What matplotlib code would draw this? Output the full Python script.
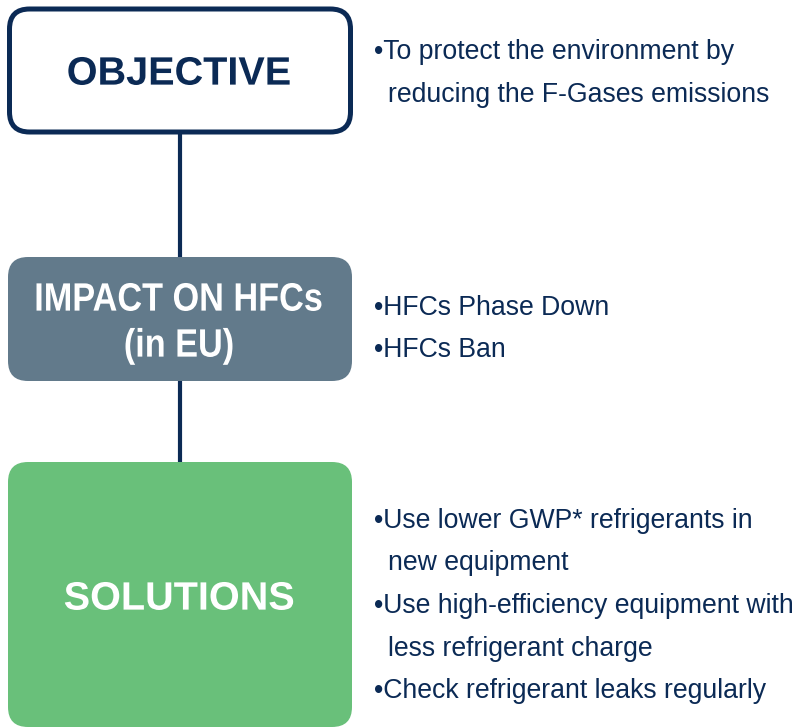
import matplotlib
matplotlib.use("Agg")
import matplotlib.pyplot as plt
from matplotlib.patches import FancyBboxPatch, PathPatch
from matplotlib.textpath import TextPath
from matplotlib.font_manager import FontProperties
from matplotlib.transforms import Affine2D

NAVY, SLATE, GREEN = "#0b2a55", "#627a8b", "#69c07a"

# boxes: title lines, fill, text colour, horizontal squeeze of the title
box_titles = [["OBJECTIVE"], ["IMPACT ON HFCs", "(in EU)"], ["SOLUTIONS"]]
box_fills = ["white", SLATE, GREEN]
box_text_colors = [NAVY, "white", "white"]
box_squeeze = [1.0, 0.865, 1.0]

# bullet text beside each box: (is_new_bullet, text)
bullets = [
    [(True, "To protect the environment by"), (False, "reducing the F-Gases emissions")],
    [(True, "HFCs Phase Down"), (True, "HFCs Ban")],
    [(True, "Use lower GWP* refrigerants in"), (False, "new equipment"),
     (True, "Use high-efficiency equipment with"), (False, "less refrigerant charge"),
     (True, "Check refrigerant leaks regularly")],
]

# layout in pixels (y downwards)
W, H = 795, 728
box_x0, box_x1 = 8, 352
box_y = [(9, 132), (257, 381), (462, 727)]
title_mid = [71, 297, 596]
bullet_baselines = [[59, 102], [315, 357], [528, 570, 613, 656, 698]]

fig = plt.figure(figsize=(W / 100, H / 100), dpi=100)
ax = fig.add_axes([0, 0, 1, 1])
ax.set_xlim(0, W)
ax.set_ylim(H, 0)
ax.axis("off")

bold = FontProperties(family="Liberation Sans", weight="bold")


def title(x, ymid, txt, color, squeeze):
    # text drawn as a path so it can be narrowed like the original
    tp = TextPath((0, 0), txt, size=39.6, prop=bold)
    ref = TextPath((0, 0), "H", size=39.6, prop=bold).get_extents()
    ext = tp.get_extents()
    w = ext.width * squeeze
    capmid = (ref.y0 + ref.y1) / 2
    tr = Affine2D().translate(-ext.x0, -capmid).scale(squeeze, -1).translate(x - w / 2, ymid)
    ax.add_patch(PathPatch(tr.transform_path(tp), fc=color, ec="none", zorder=3))


cx = (box_x0 + box_x1) / 2 - 1
for (a0, a1), (b0, b1) in zip(box_y[:-1], box_y[1:]):
    ax.plot([180, 180], [a1, b0], color=NAVY, lw=3.0, solid_capstyle="butt", zorder=1)

for i, (y0, y1) in enumerate(box_y):
    if i == 0:
        patch = FancyBboxPatch((box_x0 + 1.5, y0), box_x1 - box_x0 - 3, y1 - y0,
                               boxstyle="round,pad=0,rounding_size=20",
                               fc=box_fills[i], ec=NAVY, lw=3.6, zorder=2)
    else:
        patch = FancyBboxPatch((box_x0, y0), box_x1 - box_x0, y1 - y0,
                               boxstyle="round,pad=0,rounding_size=20",
                               fc=box_fills[i], ec="none", zorder=2)
    ax.add_patch(patch)
    lines = box_titles[i]
    n = len(lines)
    for k, ln in enumerate(lines):
        title(cx, title_mid[i] + k * 46, ln, box_text_colors[i], box_squeeze[i])

for items, bases in zip(bullets, bullet_baselines):
    for (new, txt), yb in zip(items, bases):
        if new:
            ax.text(374, yb, "\u2022" + txt, ha="left", va="baseline", fontsize=19.2,
                    color=NAVY, family="Liberation Sans")
        else:
            ax.text(388, yb, txt, ha="left", va="baseline", fontsize=19.2,
                    color=NAVY, family="Liberation Sans")

fig.savefig("out.png", dpi=100, facecolor="white")
